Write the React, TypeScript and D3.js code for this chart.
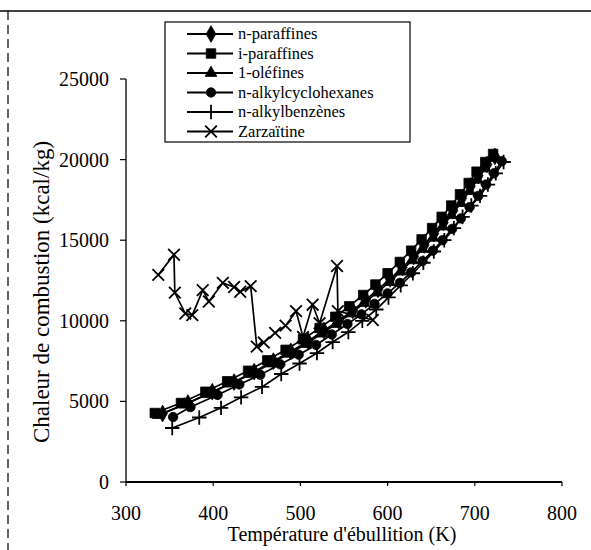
import React from 'react';
import * as d3 from 'd3';

const seriesNames = ['n-paraffines', 'i-paraffines', '1-oléfines', 'n-alkylcyclohexanes', 'n-alkylbenzènes', 'Zarzaïtine'];

const nParT = [342, 371, 399, 424, 447, 469, 489, 509, 527, 544, 560, 575, 589, 603, 617, 630, 642, 653, 664, 675, 685, 695, 704, 714, 723];
const nParH = [4250, 4900, 5600, 6200, 6850, 7500, 8100, 8750, 9400, 10000, 10650, 11300, 11950, 12600, 13300, 14000, 14700, 15400, 16100, 16850, 17600, 18350, 19000, 19700, 20200];

const iParT = [333, 363, 391, 416, 440, 462, 483, 503, 522, 540, 556, 572, 586, 600, 614, 627, 639, 651, 662, 673, 683, 693, 702, 712, 721];
const iParH = [4280, 4900, 5600, 6250, 6900, 7550, 8200, 8850, 9550, 10250, 10900, 11600, 12250, 12950, 13650, 14350, 15050, 15750, 16450, 17150, 17850, 18550, 19250, 19850, 20350];

const oleT = [337, 367, 394, 420, 444, 466, 487, 506, 524, 541, 558, 573, 588, 602, 615, 628, 640, 652, 663, 673, 684, 694, 703, 712, 721];
const oleH = [4150, 4800, 5450, 6100, 6700, 7350, 7950, 8550, 9200, 9800, 10450, 11100, 11750, 12400, 13050, 13750, 14450, 15150, 15850, 16550, 17300, 18050, 18750, 19450, 20100];

const cycT = [354, 374, 405, 430, 454, 477, 498, 518, 536, 554, 570, 585, 600, 614, 627, 640, 652, 663, 674, 684, 694, 704, 713, 722, 731];
const cycH = [4030, 4650, 5400, 6050, 6650, 7300, 7900, 8500, 9150, 9800, 10400, 11050, 11700, 12350, 13000, 13700, 14350, 15000, 15700, 16350, 17050, 17750, 18450, 19150, 19900];

const benT = [353, 384, 409, 432, 456, 478, 499, 519, 537, 555, 571, 587, 601, 615, 629, 641, 653, 665, 676, 686, 696, 706, 715, 724, 733];
const benH = [3350, 4000, 4600, 5250, 5900, 6700, 7350, 8000, 8680, 9300, 10000, 10700, 11450, 12200, 12950, 13600, 14300, 15000, 15750, 16450, 17150, 17750, 18450, 19150, 19850];

const zarT = [337, 355, 356, 368, 376, 388, 395, 411, 424, 431, 443, 450, 458, 471, 483, 495, 503, 514, 522, 542, 543, 583];
const zarH = [12850, 14100, 11750, 10450, 10350, 11900, 11200, 12350, 12100, 11800, 12150, 8400, 8650, 9250, 9700, 10600, 9000, 11000, 9850, 13400, 10600, 10050];

const xTicks = [300, 400, 500, 600, 700, 800];
const yTicks = [0, 5000, 10000, 15000, 20000, 25000];

const xTitle = "Température d'ébullition (K)";
const yTitle = 'Chaleur de combustion (kcal/kg)';

const FONT = '"Liberation Serif", "Times New Roman", serif';

type Sym = 'diamond' | 'square' | 'triangle' | 'circle' | 'plus' | 'times';

const series: { name: string; t: number[]; h: number[]; sym: Sym }[] = [
  { name: seriesNames[0], t: nParT, h: nParH, sym: 'diamond' },
  { name: seriesNames[1], t: iParT, h: iParH, sym: 'square' },
  { name: seriesNames[2], t: oleT, h: oleH, sym: 'triangle' },
  { name: seriesNames[3], t: cycT, h: cycH, sym: 'circle' },
  { name: seriesNames[4], t: benT, h: benH, sym: 'plus' },
  { name: seriesNames[5], t: zarT, h: zarH, sym: 'times' },
];

const symGen = (s: Sym) => {
  switch (s) {
    case 'diamond': return { d: d3.symbol(d3.symbolDiamond, 80)(), fill: true };
    case 'square': return { d: d3.symbol(d3.symbolSquare, 90)(), fill: true };
    case 'triangle': return { d: d3.symbol(d3.symbolTriangle, 60)(), fill: true };
    case 'circle': return { d: d3.symbol(d3.symbolCircle, 70)(), fill: true };
    case 'plus': return { d: d3.symbol(d3.symbolPlus, 70)(), fill: false };
    case 'times': return { d: d3.symbol(d3.symbolTimes, 90)(), fill: false };
  }
};

function Marker({ x, y, sym }: { x: number; y: number; sym: Sym }) {
  const g = symGen(sym)!;
  return (
    <path
      d={g.d || ''}
      transform={`translate(${x},${y})`}
      fill={g.fill ? '#000' : 'none'}
      stroke="#000"
      strokeWidth={g.fill ? 0.8 : 1.8}
    />
  );
}

export default function App() {
  const x = d3.scaleLinear().domain([300, 800]).range([126, 562]);
  const y = d3.scaleLinear().domain([0, 25000]).range([482, 79]);
  const line = d3.line<[number, number]>().x((d) => x(d[0])).y((d) => y(d[1]));

  const legX = 165;
  const legY = 22;
  const rowH = 19.5;

  return (
    <svg
      width={591}
      height={550}
      style={{ position: 'absolute', left: 0, top: 0, background: '#fff' }}
      fontFamily={FONT}
    >
      <rect x={0} y={0} width={591} height={550} fill="#fff" />
      {/* outer frame */}
      <line x1={0} x2={591} y1={11} y2={11} stroke="#000" strokeWidth={1.3} />
      <line x1={8} x2={8} y1={11} y2={550} stroke="#000" strokeWidth={1.2} strokeDasharray="9 5" />

      {/* axes */}
      <line x1={x(300)} x2={x(300)} y1={y(25000)} y2={y(0)} stroke="#000" strokeWidth={1.3} />
      <line x1={x(300)} x2={x(800)} y1={y(0)} y2={y(0)} stroke="#000" strokeWidth={1.8} />
      {yTicks.map((v) => (
        <g key={'y' + v}>
          <line x1={x(300) - 6} x2={x(300)} y1={y(v)} y2={y(v)} stroke="#000" strokeWidth={1.2} />
          <text x={109} y={y(v)} dy="0.35em" textAnchor="end" fontSize={20}>{v}</text>
        </g>
      ))}
      {xTicks.map((v) => (
        <g key={'x' + v}>
          <line x1={x(v)} x2={x(v)} y1={y(0)} y2={y(0) + 4} stroke="#000" strokeWidth={1.2} />
          <text x={x(v)} y={520} textAnchor="middle" fontSize={20}>{v}</text>
        </g>
      ))}
      <text x={342} y={541} textAnchor="middle" fontSize={20}>{xTitle}</text>
      <text transform="translate(49,292) rotate(-90)" textAnchor="middle" fontSize={23}>{yTitle}</text>

      {/* series */}
      {series.map((s) => {
        const pts = s.t.map((t, i) => [t, s.h[i]] as [number, number]);
        return (
          <g key={s.name}>
            <path d={line(pts) || ''} fill="none" stroke="#000" strokeWidth={1.7} />
            {pts.map((p, i) => (
              <Marker key={i} x={x(p[0])} y={y(p[1])} sym={s.sym} />
            ))}
          </g>
        );
      })}

      {/* legend */}
      <rect x={legX} y={legY} width={245} height={120} fill="#fff" stroke="#000" strokeWidth={1.2} />
      {series.map((s, i) => {
        const cy = legY + 12 + i * rowH;
        return (
          <g key={'leg' + s.name}>
            <line x1={187} x2={233} y1={cy} y2={cy} stroke="#000" strokeWidth={1.8} />
            <Marker x={211} y={cy} sym={s.sym} />
            <text x={238} y={cy} dy="0.33em" fontSize={16.5}>{s.name}</text>
          </g>
        );
      })}
    </svg>
  );
}
